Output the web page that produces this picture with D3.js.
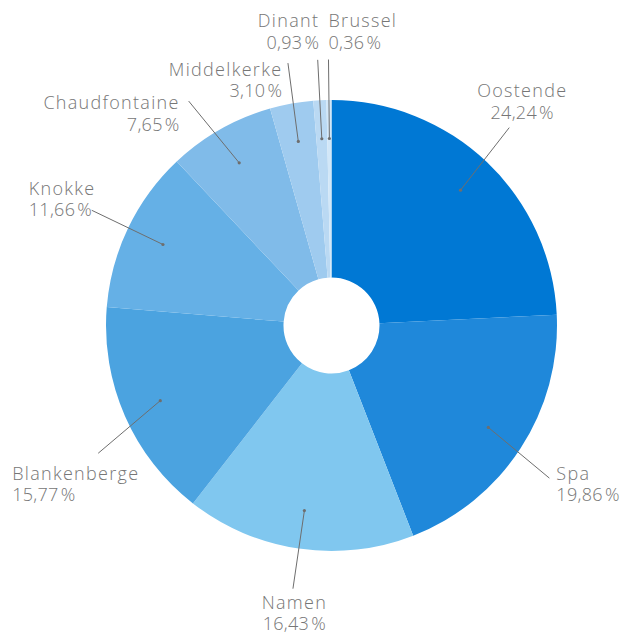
<!DOCTYPE html>
<html>
<head>
<meta charset="utf-8">
<script src="https://cdn.jsdelivr.net/npm/d3@7"></script>
<style>
  body { margin: 0; background: #fff; }
  svg text { font-family: "Open Sans", "DejaVu Sans", sans-serif; font-weight: 300; font-size: 18px; fill: #767676; }
  svg tspan.name { letter-spacing: 1.3px; }
  svg tspan.pct { letter-spacing: 0.3px; }
</style>
</head>
<body>
<svg width="622" height="635"></svg>
<script>
const categories = ['Oostende', 'Spa', 'Namen', 'Blankenberge', 'Knokke', 'Chaudfontaine', 'Middelkerke', 'Dinant', 'Brussel'];
const shares = [24.24, 19.86, 16.43, 15.77, 11.66, 7.65, 3.10, 0.93, 0.36];
const colors = ['#0078d4', '#1f88da', '#80c7ef', '#4ba3e0', '#65b0e6', '#80bbe9', '#9fcbef', '#bad9f3', '#d2e7f8'];

// label layout: [text-anchor, dx, dy of first baseline] relative to leader end, plus leader angle nudge (deg)
const labelLayout = [
  ['middle', 13, -30.6, -1.7],
  ['start', 7, 1.4, 2],
  ['middle', 1.4, 20, 0],
  ['start', -86, 26.5, -5],
  ['start', -63, -15.7, 0],
  ['end', -9, 8.3, -2.9],
  ['end', -5.6, 12.7, 0.8],
  ['end', 1.5, -32.6, 0],
  ['start', 0, -32.6, 0]
];

const svg = d3.select('svg');
const cx = 331.5, cy = 325.5;
const outerR = 225.5, innerR = 48;
const dotR = 187, endR = 266;
const lineH = 21.6;

const nl = d3.formatLocale({decimal: ',', thousands: '.', grouping: [3], currency: ['', '€']});
const fmt = v => nl.format('.2f')(v) + '\u200A%';

const pie = d3.pie().sort(null).value(d => d.value);
const arc = d3.arc().innerRadius(innerR).outerRadius(outerR);
const data = categories.map((c, i) => ({name: c, value: shares[i], color: colors[i]}));
const arcs = pie(data);

const g = svg.append('g').attr('transform', `translate(${cx},${cy})`);

g.selectAll('path.slice')
  .data(arcs)
  .enter().append('path')
  .attr('class', 'slice')
  .attr('d', arc)
  .attr('fill', d => d.data.color);

const polar = (a, r) => [r * Math.sin(a), -r * Math.cos(a)];

arcs.forEach((d, i) => {
  const mid = (d.startAngle + d.endAngle) / 2;
  const lay = labelLayout[i];
  const p0 = polar(mid, dotR);
  const p1 = polar(mid + lay[3] * Math.PI / 180, endR);

  g.append('line')
    .attr('x1', p0[0]).attr('y1', p0[1])
    .attr('x2', p1[0]).attr('y2', p1[1])
    .attr('stroke', '#6e6e6e')
    .attr('stroke-width', 1);
  g.append('circle')
    .attr('cx', p0[0]).attr('cy', p0[1])
    .attr('r', 1.6)
    .attr('fill', '#6e6e6e');

  const x = p1[0] + lay[1];
  const t = g.append('text')
    .attr('text-anchor', lay[0])
    .attr('x', x)
    .attr('y', p1[1] + lay[2]);
  t.append('tspan').attr('class', 'name').attr('x', x).text(d.data.name);
  t.append('tspan').attr('class', 'pct').attr('x', x).attr('dy', lineH).text(fmt(d.data.value));
});
</script>
</body>
</html>
